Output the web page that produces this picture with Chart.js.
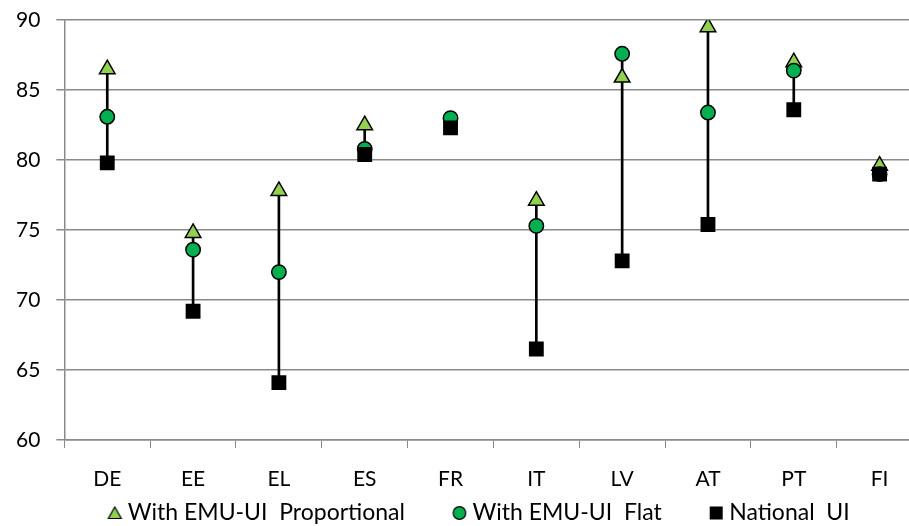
<!DOCTYPE html>
<html>
<head>
<meta charset="utf-8">
<script src="https://cdn.jsdelivr.net/npm/chart.js@4/dist/chart.umd.min.js"></script>
<style>
  html, body { margin: 0; padding: 0; background: #fff; overflow: hidden; width: 909px; height: 526px; }
  canvas { display: block; }
</style>
</head>
<body>
<canvas id="c" width="933" height="526"></canvas>
<script>
const categories = ['DE', 'EE', 'EL', 'ES', 'FR', 'IT', 'LV', 'AT', 'PT', 'FI'];
const proportional = [86.5, 74.8, 77.8, 82.5, null, 77.1, 85.9, 89.5, 87.0, 79.6];
const flat         = [83.1, 73.6, 72.0, 80.8, 83.0, 75.3, 87.6, 83.4, 86.4, 79.0];
const nationalUI   = [79.8, 69.2, 64.1, 80.4, 82.3, 66.5, 72.8, 75.4, 83.6, 79.0];
const yTicks = [60, 65, 70, 75, 80, 85, 90];

const seriesNames = ['With EMU-UI  Proportional', 'With EMU-UI  Flat', 'National  UI'];

// high-low range per category, built from the series above
const highLow = categories.map((_, i) => {
  const vals = [proportional[i], flat[i], nationalUI[i]].filter(v => v !== null);
  return [Math.min(...vals), Math.max(...vals)];
});

const FONT = 'Lato, "Open Sans", sans-serif';
const GRID = '#8a8a8a';
const LEG_BOX = 44.5;
const ICON_SHIFT = 6;
const SHIFT_LEFT = 8.5;

// legend icons: small marker near the right end of a transparent box
function legendIcon(kind) {
  const c = document.createElement('canvas');
  c.width = Math.round(LEG_BOX + 2 * ICON_SHIFT + 4); c.height = 16;
  const g = c.getContext('2d');
  const cx = (c.width - LEG_BOX) / 2 + LEG_BOX - 7.5 + ICON_SHIFT, cy = 8;
  g.lineWidth = 1.2; g.strokeStyle = '#000';
  if (kind === 'triangle') {
    g.beginPath(); g.moveTo(cx, cy - 6); g.lineTo(cx + 6.5, cy + 5.5); g.lineTo(cx - 6.5, cy + 5.5); g.closePath();
    g.fillStyle = '#92D050'; g.fill(); g.stroke();
  } else if (kind === 'circle') {
    g.beginPath(); g.arc(cx, cy, 6.3, 0, Math.PI * 2);
    g.fillStyle = '#00B050'; g.fill(); g.stroke();
  } else {
    g.fillStyle = '#000'; g.fillRect(cx - 6.5, cy - 6.5, 13, 13);
  }
  return c;
}
const icons = [legendIcon('triangle'), legendIcon('circle'), legendIcon('rect')];

new Chart(document.getElementById('c'), {
  type: 'bar',
  data: {
    labels: categories,
    datasets: [
      {
        type: 'line', label: seriesNames[0], data: proportional, showLine: false,
        pointStyle: 'triangle', pointRadius: 9, pointHoverRadius: 9,
        backgroundColor: '#92D050', borderColor: '#000', pointBorderWidth: 1.5, order: 2
      },
      {
        type: 'line', label: seriesNames[1], data: flat, showLine: false,
        pointStyle: 'circle', pointRadius: 7.2, pointHoverRadius: 7.2,
        backgroundColor: '#00B050', borderColor: '#000', pointBorderWidth: 1.5, order: 1
      },
      {
        type: 'line', label: seriesNames[2], data: nationalUI, showLine: false,
        pointStyle: 'rect', pointRadius: 10.5, pointHoverRadius: 10.5,
        backgroundColor: '#000', borderColor: '#000', pointBorderWidth: 0, order: 0
      },
      {
        type: 'bar', label: 'range', data: highLow,
        backgroundColor: '#000', borderWidth: 0, barThickness: 2, order: 3
      }
    ]
  },
  options: {
    responsive: false,
    animation: false,
    devicePixelRatio: 1,
    layout: { padding: { left: -SHIFT_LEFT, right: 3, top: 0, bottom: -8.5 } },
    plugins: {
      tooltip: { enabled: false },
      legend: {
        position: 'bottom',
        labels: {
          usePointStyle: true,
          pointStyleWidth: LEG_BOX,
          boxHeight: 16,
          padding: 11.5,
          color: '#000',
          font: { family: FONT, size: 23 },
          generateLabels: chart => {
            const items = Chart.defaults.plugins.legend.labels.generateLabels(chart)
              .filter(it => it.datasetIndex < 3)
              .sort((a, b) => a.datasetIndex - b.datasetIndex);
            items.forEach(it => { it.pointStyle = icons[it.datasetIndex]; });
            return items;
          }
        }
      }
    },
    scales: {
      x: {
        offset: true,
        afterFit: scale => { scale.height = 50; },
        grid: { display: true, drawOnChartArea: false, drawTicks: true, tickLength: 8, color: GRID, offset: true },
        border: { display: true, color: GRID, width: 1.5 },
        ticks: { color: '#000', font: { family: FONT, size: 21 }, padding: 19 }
      },
      y: {
        min: 60, max: 90,
        afterBuildTicks: axis => { axis.ticks = yTicks.map(v => ({ value: v })); },
        afterFit: scale => { scale.width += SHIFT_LEFT; },
        grid: { color: GRID, lineWidth: 1.5, tickLength: 8, drawTicks: true },
        border: { display: true, color: GRID, width: 1.5 },
        ticks: { color: '#000', font: { family: FONT, size: 21, lineHeight: 0.4 }, padding: 16 }
      }
    }
  }
});
</script>
</body>
</html>
